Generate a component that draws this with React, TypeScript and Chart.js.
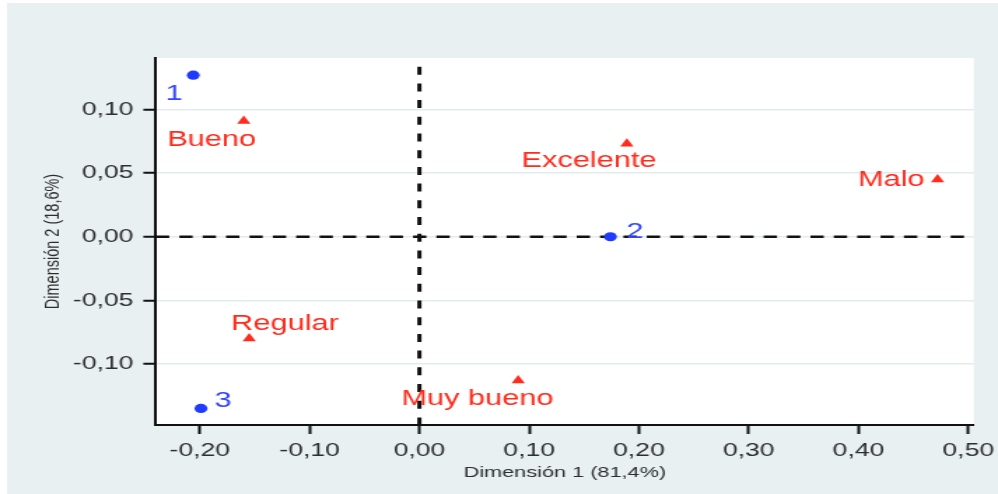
import React, { useEffect, useRef } from 'react';
import { Chart, registerables } from 'chart.js';

Chart.register(...registerables);

// ---- data ----
const rowLabels = ['1', '2', '3'];
const rowX = [-0.206, 0.174, -0.199];
const rowY = [0.127, 0.0, -0.135];

const colLabels = ['Excelente', 'Muy bueno', 'Bueno', 'Regular', 'Malo'];
const colX = [0.189, 0.09, -0.16, -0.155, 0.472];
const colY = [0.073, -0.113, 0.091, -0.08, 0.045];

const xTicks = [-0.2, -0.1, 0, 0.1, 0.2, 0.3, 0.4, 0.5];
const yTicks = [-0.1, -0.05, 0, 0.05, 0.1];

const xTitle = 'Dimensión 1 (81,4%)';
const yTitle = 'Dimensión 2 (18,6%)';

// ---- style ----
const FONT = '"Liberation Sans", Arial, Helvetica, sans-serif';
const BLUE = '#1f3bff';
const BLUE_TEXT = '#3447ff';
const RED = '#ff2b1c';
const BG = '#e8f0f2';
const GRID = '#e3ebee';
const INK = '#2e2e2e';

// internal canvas is narrower and stretched by CSS (like the reference export)
const W_INT = 713;
const H = 494;
const W_CSS = 998;

// label offsets from marker (px), placement only
const rowLabelOffsets = [[-13.6, 24.9], [17.4, 1.2], [15.9, -1.7]];
const colLabelOffsets = [[-27.1, 23.6], [-29.1, 24.5], [-22.9, 25], [25.5, -8.2], [-33.1, 6.7]];

const fmt = (v: number) => Number(v).toFixed(2).replace('.', ',');

export default function App() {
  const ref = useRef<HTMLCanvasElement | null>(null);

  useEffect(() => {
    const canvas = ref.current;
    if (!canvas) return;

    const bgPlugin = {
      id: 'bgPlugin',
      beforeDraw(chart: any) {
        const { ctx, chartArea } = chart;
        ctx.save();
        ctx.fillStyle = '#ffffff';
        ctx.fillRect(0, 0, chart.width, chart.height);
        ctx.fillStyle = BG;
        ctx.fillRect(5, 3, chart.width - 5, chart.height - 3);
        ctx.fillStyle = '#ffffff';
        ctx.fillRect(chartArea.left, chartArea.top, chartArea.right - chartArea.left, chartArea.bottom - chartArea.top);
        ctx.restore();
      },
    };

    const refLines = {
      id: 'refLines',
      beforeDatasetsDraw(chart: any) {
        const { ctx, chartArea, scales } = chart;
        const x0 = scales.x.getPixelForValue(0);
        const y0 = scales.y.getPixelForValue(0);
        ctx.save();
        ctx.beginPath();
        ctx.rect(chartArea.left, chartArea.top, chartArea.right - chartArea.left, chartArea.bottom - chartArea.top);
        ctx.clip();
        ctx.strokeStyle = '#111111';
        // horizontal
        ctx.lineWidth = 2.5;
        ctx.setLineDash([9.5, 7.2]);
        ctx.beginPath();
        ctx.moveTo(chartArea.left, y0);
        ctx.lineTo(chartArea.right, y0);
        ctx.stroke();
        // vertical
        ctx.lineWidth = 3;
        ctx.setLineDash([8, 8.7]);
        ctx.lineDashOffset = 8;
        ctx.beginPath();
        ctx.moveTo(x0, chartArea.top);
        ctx.lineTo(x0, chartArea.bottom);
        ctx.stroke();
        ctx.restore();
      },
    };

    const pointLabels = {
      id: 'pointLabels',
      afterDatasetsDraw(chart: any) {
        const { ctx } = chart;
        ctx.save();
        ctx.font = `22px ${FONT}`;
        ctx.textAlign = 'center';
        ctx.textBaseline = 'alphabetic';
        const groups = [
          { idx: 0, labels: rowLabels, offs: rowLabelOffsets, color: BLUE_TEXT },
          { idx: 1, labels: colLabels, offs: colLabelOffsets, color: RED },
        ];
        groups.forEach((g) => {
          const meta = chart.getDatasetMeta(g.idx);
          ctx.fillStyle = g.color;
          meta.data.forEach((el: any, i: number) => {
            const o = g.offs[i] || [0, 0];
            ctx.fillText(g.labels[i], el.x + o[0], el.y + o[1]);
          });
        });
        ctx.restore();
      },
    };

    const chart = new Chart(canvas, {
      type: 'scatter',
      data: {
        datasets: [
          {
            label: 'Filas',
            data: rowX.map((x, i) => ({ x, y: rowY[i] })),
            pointStyle: 'circle',
            pointRadius: 4.6,
            backgroundColor: BLUE,
            borderColor: BLUE,
            borderWidth: 0,
          },
          {
            label: 'Columnas',
            data: colX.map((x, i) => ({ x, y: colY[i] })),
            pointStyle: 'triangle',
            pointRadius: 5.5,
            backgroundColor: RED,
            borderColor: RED,
            borderWidth: 0,
          },
        ],
      },
      options: {
        responsive: false,
        devicePixelRatio: 1,
        animation: false,
        events: [],
        layout: { padding: { left: 0, top: 58, right: 17.3, bottom: 0 } },
        plugins: {
          legend: { display: false },
          tooltip: { enabled: false },
        },
        scales: {
          x: {
            type: 'linear',
            min: -0.24,
            max: 0.505,
            afterBuildTicks: (scale: any) => {
              scale.ticks = xTicks.map((v) => ({ value: v }));
            },
            afterFit: (scale: any) => {
              scale.height = 69;
              scale.paddingRight = 0;
              scale.paddingLeft = 0;
            },
            ticks: {
              autoSkip: false,
              maxRotation: 0,
              padding: 5,
              color: INK,
              font: { family: FONT, size: 19 },
              callback: (v: any) => fmt(v),
            },
            grid: {
              drawOnChartArea: false,
              drawTicks: true,
              tickLength: 9,
              tickColor: '#111111',
              tickWidth: 2,
            },
            border: { display: true, color: '#111111', width: 2 },
            title: {
              display: true,
              text: xTitle,
              color: INK,
              font: { family: FONT, size: 15.5 },
              padding: { top: 0, bottom: 12 },
            },
          },
          y: {
            type: 'linear',
            min: -0.148,
            max: 0.1405,
            afterBuildTicks: (scale: any) => {
              scale.ticks = yTicks.map((v) => ({ value: v }));
            },
            afterFit: (scale: any) => {
              scale.width = 111.4;
              scale.paddingTop = 0;
              scale.paddingBottom = 0;
            },
            ticks: {
              autoSkip: false,
              padding: 7,
              color: INK,
              font: { family: FONT, size: 19 },
              callback: (v: any) => fmt(v),
            },
            grid: {
              drawOnChartArea: true,
              color: GRID,
              lineWidth: 1.5,
              drawTicks: true,
              tickLength: 9,
              tickColor: '#111111',
              tickWidth: 2,
            },
            border: { display: true, color: '#111111', width: 2 },
            title: {
              display: true,
              text: yTitle,
              color: INK,
              font: { family: FONT, size: 14.5 },
              padding: { top: 29, bottom: 0 },
            },
          },
        },
      },
      plugins: [bgPlugin, refLines, pointLabels],
    } as any);

    return () => {
      chart.destroy();
    };
  }, []);

  return (
    <div style={{ position: 'absolute', left: 0, top: 0, width: W_CSS, height: H, overflow: 'hidden' }}>
      <canvas
        ref={ref}
        width={W_INT}
        height={H}
        style={{ width: `${W_CSS}px`, height: `${H}px`, display: 'block' }}
      />
    </div>
  );
}
